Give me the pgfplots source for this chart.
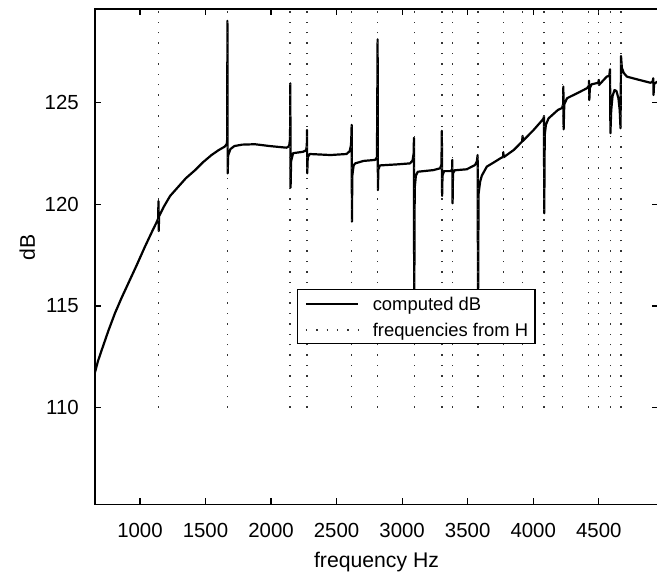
\documentclass[border=0pt]{standalone}
\usepackage{fontspec}
\setmainfont{Liberation Sans}
\usepackage{pgfplots}
\pgfplotsset{compat=1.18}
\begin{document}
\begin{tikzpicture}
\path[use as bounding box] (-47.5pt,-34.85pt) rectangle (281pt,252.15pt);
\begin{axis}[
  at={(0,0)}, anchor=south west,
  scale only axis, width=281.5pt, height=247.65pt,
  xmin=657, xmax=4952, ymin=105.26, ymax=129.58,
  xtick={1000,1500,...,4500}, ytick={110,115,120,125},
  tick align=inside, major tick length=3pt,
  axis line style={line width=0.6pt},
  every tick/.style={black, line width=0.6pt},
  tick label style={font=\fontsize{10.2}{12}\selectfont},
  /pgf/number format/assume math mode=true,
  /pgf/number format/1000 sep={},
  xticklabel style={yshift=-5.8pt},
  yticklabel style={xshift=-4.6pt},
  xlabel={frequency Hz}, ylabel={dB},
  label style={font=\fontsize{10.6}{12}\selectfont},
  xlabel style={at={(axis description cs:0.5,-0.1276)}, anchor=base},
  ylabel style={at={(axis description cs:-0.1066,0.5185)}, anchor=base},
  unbounded coords=jump,
  legend style={at={(0.3593,0.4341)}, anchor=north west, draw=black,
    line width=0.6pt, fill=white, font=\fontsize{9.2}{11}\selectfont,
    inner xsep=3.4pt, inner ysep=3.7pt, row sep=6.4pt, column sep=6.65pt,
    nodes={inner sep=0pt, text height=6.6pt, text depth=0pt}},
  legend cell align=left,
  legend image code/.code={\draw[#1] (0pt,0pt) -- (26.3pt,0pt);},
]
% computed response
\addplot[black, line width=1.1pt, line join=round] coordinates {
(657,111.74) (680,112.3) (708,112.83) (760,113.8) (809,114.64) (860,115.4)
(911,116.11) (975,117.0) (1038,117.91) (1090,118.62) (1130,119.15)
(1139,119.3) (1141,120.15) (1143,118.68) (1146,119.4) (1180,119.85)
(1230,120.4) (1292,120.85) (1350,121.27) (1421,121.67) (1480,122.05)
(1546,122.41) (1600,122.65) (1646,122.82) (1662,122.95) (1666,123.2)
(1667,129.0) (1669,121.51) (1673,122.4) (1690,122.7) (1720,122.85)
(1780,122.92) (1877,122.94) (1991,122.85) (2118,122.77) (2138,122.85)
(2145,123.2) (2147,125.93) (2149,120.81) (2153,122.1) (2168,122.5)
(2245,122.57) (2268,122.65) (2273,122.9) (2274,123.64) (2276,121.51)
(2280,122.3) (2295,122.46) (2454,122.41) (2576,122.46) (2600,122.6)
(2610,122.9) (2613,123.4) (2615,123.89) (2617,119.14) (2620,121.4)
(2630,121.9) (2642,122.0) (2705,122.12) (2794,122.17) (2808,122.3)
(2813,128.09) (2815,120.69) (2819,121.7) (2830,121.9) (2960,121.95)
(3061,122.0) (3080,122.15) (3088,122.5) (3090,123.25) (3092,114.5)
(3096,120.8) (3105,121.4) (3120,121.59) (3239,121.67) (3290,121.76)
(3300,121.95) (3303,123.6) (3305,120.4) (3308,121.4) (3320,121.62)
(3370,121.62) (3382,121.7) (3383,122.17) (3385,120.04) (3388,121.5)
(3400,121.66) (3493,121.71) (3556,121.92) (3570,122.1) (3576,122.41)
(3579,114.5) (3583,120.5) (3595,121.1) (3608,121.4) (3646,121.84)
(3700,122.05) (3750,122.25) (3770,122.32) (3772,122.55) (3774,122.3)
(3852,122.66) (3915,123.07) (3919,123.35) (3921,123.1) (4003,123.64)
(4066,124.1) (4078,124.2) (4082,124.3) (4084,119.55) (4088,123.4)
(4097,123.9) (4117,124.21) (4188,124.62) (4220,124.72) (4228,124.9)
(4230,125.77) (4232,123.67) (4237,124.9) (4258,125.2) (4334,125.44)
(4410,125.69) (4424,125.8) (4426,126.06) (4428,125.11) (4432,125.7)
(4445,125.88) (4497,125.96) (4500,126.1) (4502,125.85) (4561,126.26)
(4580,126.3) (4586,126.62) (4589,123.48) (4595,124.6) (4605,125.3)
(4620,125.6) (4635,125.55) (4650,125.2) (4660,124.6) (4666,123.72)
(4670,127.27) (4676,126.7) (4690,126.45) (4714,126.26) (4790,126.13)
(4893,125.96) (4910,126.0) (4916,126.18) (4918,125.36) (4922,125.9)
(4943,126.0) (4952,126.0)
};
\addlegendentry{computed dB}
% frequencies from H
\addplot[black!80, line width=0.7pt, dash pattern=on 0.7pt off 4.5pt] coordinates {
(1142,110) (1142,130) (nan,nan)
(1668,110) (1668,130) (nan,nan)
(2146,110) (2146,130) (nan,nan)
(2275,110) (2275,130) (nan,nan)
(2616,110) (2616,130) (nan,nan)
(2814,110) (2814,130) (nan,nan)
(3093,110) (3093,130) (nan,nan)
(3305,110) (3305,130) (nan,nan)
(3386,110) (3386,130) (nan,nan)
(3579,110) (3579,130) (nan,nan)
(3772,110) (3772,130) (nan,nan)
(3920,110) (3920,130) (nan,nan)
(4082,110) (4082,130) (nan,nan)
(4224,110) (4224,130) (nan,nan)
(4424,110) (4424,130) (nan,nan)
(4500,110) (4500,130) (nan,nan)
(4588,110) (4588,130) (nan,nan)
(4669,110) (4669,130)
};
\addlegendentry{frequencies from H}
\end{axis}
\end{tikzpicture}
\end{document}
